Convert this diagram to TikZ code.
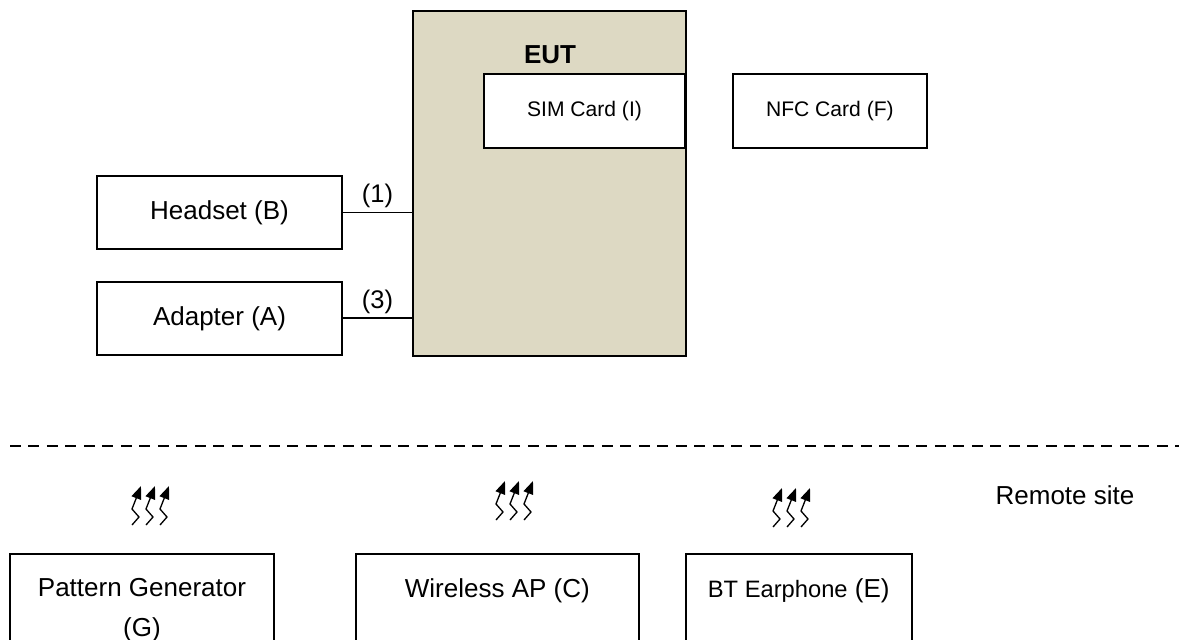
\documentclass[tikz,border=0pt]{standalone}
\usepackage{fontspec}
\setmainfont{Liberation Sans}
\usepackage{xcolor}
\usetikzlibrary{arrows.meta, positioning}
\definecolor{eutbg}{HTML}{DDD9C3}

\begin{document}
\begin{tikzpicture}[x=0.02cm, y=-0.02cm, >={Triangle[length=0.26cm,width=0.2cm]}]
		\tikzset{
			box/.style = {draw, line width=1.1pt, rectangle, fill=white, align=center,
				font=\fontsize{14.8}{24.4}\selectfont},
			cardbox/.style = {box, font=\fontsize{12}{14}\selectfont, minimum height=1.48cm},
			unitbox/.style = {box, minimum height=2.92cm},
			boxtext/.style = {align=center, font=\fontsize{14.8}{22.6}\selectfont},
			link/.style = {line width=1.1pt},
			port/.style = {above, inner sep=2pt, font=\fontsize{14.5}{17}\selectfont},
			radio/.pic = { % three zigzag arrows
				\foreach \dx in {0,14,28}
					\draw[line width=0.75pt, ->] (\dx,0) -- ++(7,-8) -- ++(-7,-8) -- ++(9,-23);
			},
		}

		%frame
		\useasboundingbox (0,0) rectangle (1179,639);
		\clip (0,0) rectangle (1179,639);

		%EUT with SIM card
		\node (eut) [box, fill=eutbg, minimum width=5.46cm, minimum height=6.9cm] at (549.5,183.5) {};
		\node (eutlabel) [font=\bfseries\fontsize{14.8}{17}\selectfont] at (550,55) {EUT};
		\node (sim) [cardbox, minimum width=4.02cm] at (584.5,111) {SIM Card (I)};
		\node (nfc) [cardbox, minimum width=3.88cm, right=0.92cm of sim] {NFC Card (F)};

		%wired units
		\node (hs) [box, minimum width=4.9cm, minimum height=1.46cm] at (219.5,212.5) {Headset (B)};
		\node (ad) [box, minimum width=4.9cm, minimum height=1.46cm, below=0.62cm of hs] {Adapter (A)};

		\draw[link] (hs.east) -- node[port] {(1)} (hs.east -| eut.west);
		\draw[link] (ad.east) -- node[port] {(3)} (ad.east -| eut.west);

		%remote site
		\draw[line width=1.1pt, dash pattern=on 0.22cm off 0.15cm] (10,446) -- (1179,446);
		\node (remote) [boxtext] at (1065,495) {Remote site};

		\node (pg) [unitbox, minimum width=5.28cm] at (142,627) {};
		\node (ap) [unitbox, minimum width=5.66cm, right=1.6cm of pg] {};
		\node (bt) [unitbox, minimum width=4.52cm, right=0.9cm of ap] {};

		\node (pgtext) [boxtext, below=0.38cm of pg.north] {Pattern Generator\\(G)};
		\node (aptext) [boxtext, below=0.38cm of ap.north] {Wireless AP (C)};
		\node (bttext) [boxtext, below=0.38cm of bt.north]
					{{\fontsize{13.5}{16}\selectfont BT Earphone} (E)};

		\pic at (132,525) {radio};
		\pic at (496,520) {radio};
		\pic at (773,527) {radio};

	\end{tikzpicture}
\end{document}
